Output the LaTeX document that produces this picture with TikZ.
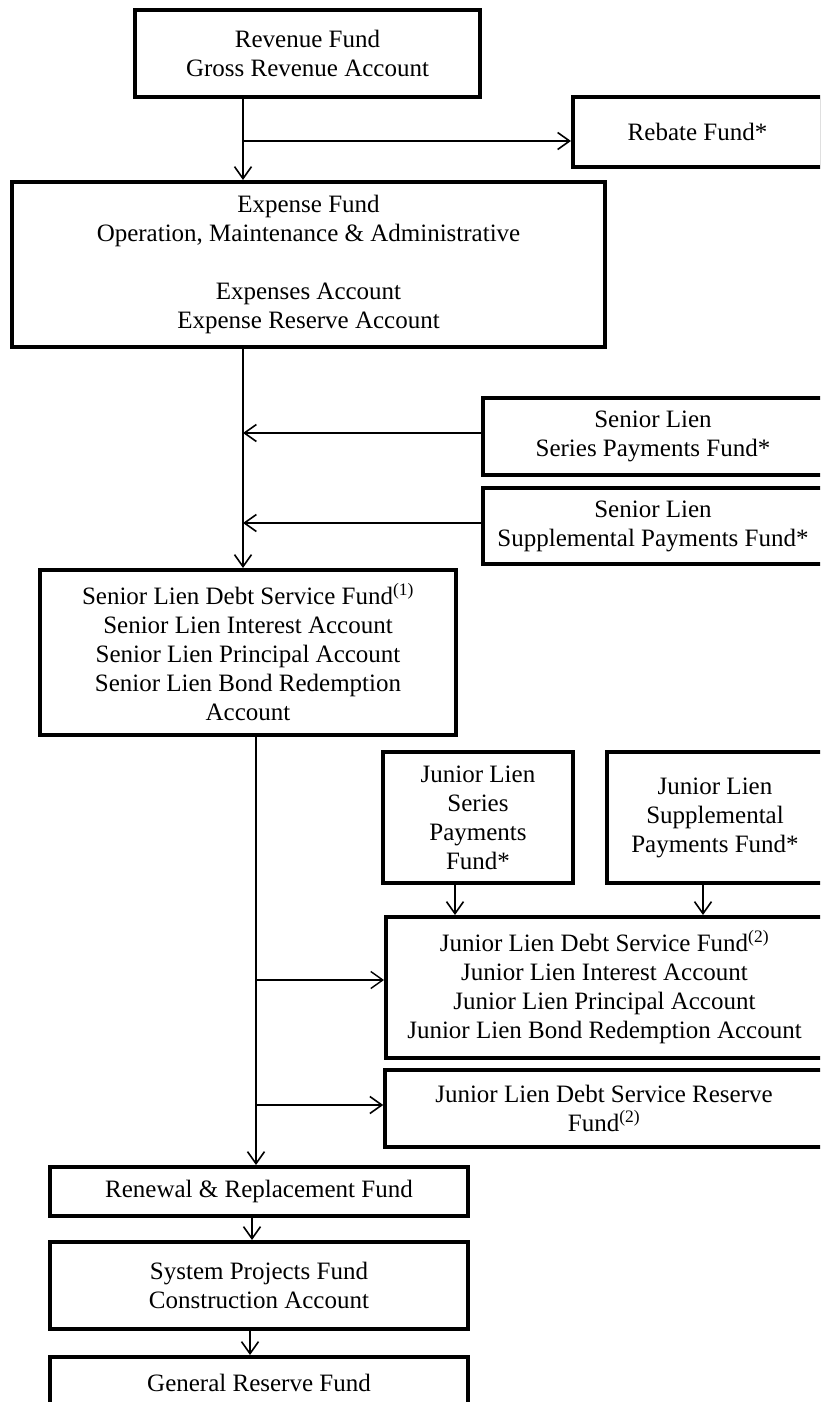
\documentclass[tikz,border=0pt]{standalone}
\usepackage{fontspec}
\setmainfont{Liberation Serif}
\usetikzlibrary{arrows.meta}
\begin{document}
\begin{tikzpicture}[x=1pt,y=-1pt,
  fundbox/.style={draw=black,line width=4pt,inner sep=0pt,align=center,
    font=\fontsize{25pt}{29pt}\selectfont},
  arr/.style={line width=1.6pt,-{Straight Barb[length=12pt,width=17pt,line width=1.6pt]}},
  thinarr/.style={line width=1.2pt,-{Straight Barb[length=12pt,width=17pt,line width=1.4pt]}},
  plain/.style={line width=1.6pt}]
\clip (0,0) rectangle (820,1402);
\fill[white] (0,0) rectangle (820,1402);

\node[fundbox,minimum width=345pt,minimum height=87pt] (rev) at (307.5,53.5)
  {Revenue Fund\\Gross Revenue Account};
\node[fundbox,minimum width=249pt,minimum height=70pt] (reb) at (697.5,132)
  {Rebate Fund*};
\node[fundbox,minimum width=593pt,minimum height=165pt] (exp) at (308.5,264.5)
  {Expense Fund\\Operation, Maintenance \& Administrative\\[29pt]Expenses Account\\Expense Reserve Account};
\node[fundbox,minimum width=340pt,minimum height=77pt] (sser) at (653,436.5)
  {Senior Lien\\Series Payments Fund*};
\node[fundbox,minimum width=340pt,minimum height=76pt] (ssup) at (653,526)
  {Senior Lien\\Supplemental Payments Fund*};
\node[fundbox,minimum width=416pt,minimum height=165pt] (sds) at (248,652.5)
  {Senior Lien Debt Service Fund\textsuperscript{(1)}\\Senior Lien Interest Account\\Senior Lien Principal Account\\Senior Lien Bond Redemption\\Account};
\node[fundbox,minimum width=190pt,minimum height=131pt] (jser) at (478,817.5)
  {Junior Lien\\Series\\Payments\\Fund*};
\node[fundbox,minimum width=216pt,minimum height=131pt] (jsup) at (715,817.5)
  {Junior Lien\\Supplemental\\Payments Fund*};
\node[fundbox,minimum width=437pt,minimum height=141pt] (jds) at (604.5,987.5)
  {Junior Lien Debt Service Fund\textsuperscript{(2)}\\Junior Lien Interest Account\\Junior Lien Principal Account\\Junior Lien Bond Redemption Account};
\node[fundbox,line width=3.5pt,minimum width=438pt,minimum height=77pt] (jdsr) at (604,1108.5)
  {Junior Lien Debt Service Reserve\\Fund\textsuperscript{(2)}};
\node[fundbox,minimum width=418pt,minimum height=49pt] (ren) at (259,1191.5)
  {Renewal \& Replacement Fund};
\node[fundbox,minimum width=418pt,minimum height=87pt] (sys) at (259,1285.5)
  {System Projects Fund\\Construction Account};
\node[fundbox,minimum width=418pt,minimum height=52pt] (gen) at (259,1383)
  {General Reserve Fund};

% trunk reference points
\coordinate (c1) at (243,141);
\coordinate (c2) at (243,433);
\coordinate (c3) at (243,523);
\coordinate (m1) at (256,980);
\coordinate (m2) at (256,1105);

\draw[arr] (rev.south -| c1) -- (exp.north -| c1);
\draw[arr] (c1) -- (c1 -| reb.west);
\draw[arr] (exp.south -| c1) -- (sds.north -| c1);
\draw[arr] (c2 -| sser.west) -- (c2);
\draw[arr] (c3 -| ssup.west) -- (c3);
\draw[arr,line width=2.2pt] (sds.south -| m1) -- (ren.north -| m1);
\draw[thinarr] (m1) -- (m1 -| jds.west);
\draw[arr] (m2) -- (m2 -| jdsr.west);
\draw[arr] (jser.south -| 455,0) -- (jds.north -| 455,0);
\draw[arr] (jsup.south -| 703,0) -- (jds.north -| 703,0);
\draw[arr] (ren.south -| 252,0) -- (sys.north -| 252,0);
\draw[arr] (sys.south -| 250,0) -- (gen.north -| 250,0);
\end{tikzpicture}
\end{document}
